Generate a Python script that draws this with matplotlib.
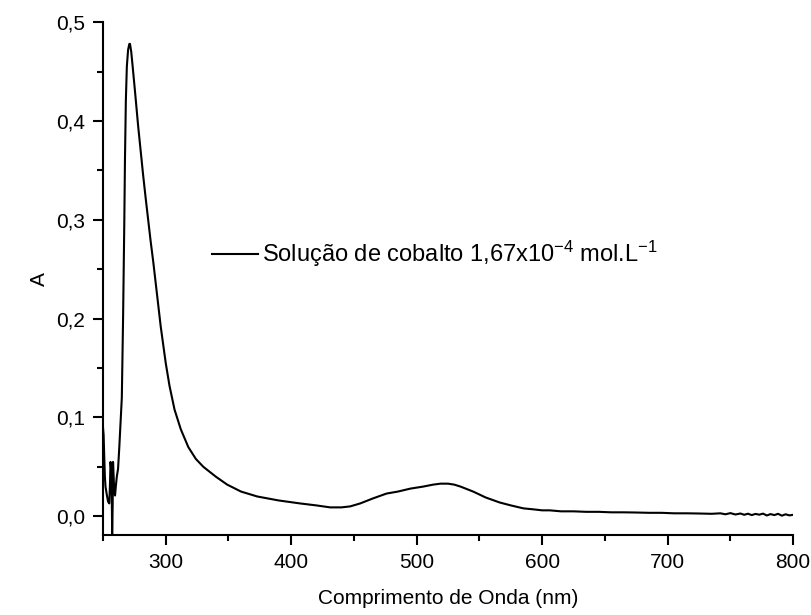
import matplotlib
matplotlib.use("Agg")
import matplotlib.pyplot as plt
from matplotlib.ticker import FuncFormatter, MultipleLocator

plt.rcParams['font.family'] = ['Liberation Sans', 'DejaVu Sans']
plt.rcParams['mathtext.fontset'] = 'custom'
plt.rcParams['mathtext.rm'] = 'Liberation Sans'
plt.rcParams['mathtext.it'] = 'Liberation Sans'
plt.rcParams['mathtext.default'] = 'regular'

# absorbance spectrum
wavelength = [250, 250.5, 251, 251.5, 252, 253, 254, 255, 255.5, 256, 256.5, 257,
              257.3, 257.7, 258, 258.5, 259, 259.6, 260.2, 261, 262, 263, 264, 265,
              266, 267, 267.5, 268.2, 269, 270, 271, 271.5, 272.5, 273.5, 275.5, 278,
              280, 282, 284, 286, 288, 290, 293, 296, 300, 303, 307, 312, 318,
              324, 330, 340, 349, 360, 373, 390, 407, 420, 431, 440, 447, 455,
              465, 476, 485, 495, 505, 513, 519, 525, 530, 535, 545, 555, 566,
              575, 585, 593, 600, 606, 615, 625, 635, 645, 655, 665, 675, 685,
              695, 705, 715, 725, 735, 742, 746, 750, 754, 758, 761, 764, 767,
              770, 773, 776, 779, 782, 785, 788, 791, 794, 797, 800]
absorbance = [0.090, 0.082, 0.060, 0.040, 0.030, 0.022, 0.015, 0.013, 0.030, 0.055,
              0.048, 0.020, -0.018, 0.010, 0.055, 0.040, 0.024, 0.021, 0.030, 0.040,
              0.048, 0.070, 0.095, 0.120, 0.200, 0.300, 0.360, 0.420, 0.455, 0.472,
              0.478, 0.478, 0.470, 0.457, 0.430, 0.395, 0.370, 0.345, 0.322, 0.300,
              0.278, 0.258, 0.225, 0.192, 0.155, 0.132, 0.108, 0.088, 0.070,
              0.058, 0.050, 0.040, 0.032, 0.025, 0.020, 0.016, 0.013, 0.011, 0.009,
              0.009, 0.010, 0.013, 0.018, 0.023, 0.025, 0.028, 0.030, 0.032, 0.033,
              0.033, 0.032, 0.030, 0.025, 0.019, 0.014, 0.011, 0.008, 0.007, 0.006,
              0.006, 0.005, 0.005, 0.0045, 0.0045, 0.004, 0.004, 0.0038, 0.0035,
              0.0035, 0.003, 0.003, 0.0028, 0.0025, 0.003, 0.002, 0.0032, 0.0018,
              0.0028, 0.0015, 0.0026, 0.0012, 0.0024, 0.0016, 0.0027, 0.0008, 0.0022,
              0.0012, 0.0025, 0.0006, 0.002, 0.0009, 0.0015]

label = "Solução de cobalto 1,67x10$^{-4}$ mol.L$^{-1}$"
x_ticks = [300, 400, 500, 600, 700, 800]
y_ticks = [0.0, 0.1, 0.2, 0.3, 0.4, 0.5]

fig = plt.figure(figsize=(8.11, 6.15), dpi=100)
ax = fig.add_axes([0.127, 0.13, 0.851, 0.834])
ax.plot(wavelength, absorbance, color='black', linewidth=1.5, label=label)

ax.set_xlim(250, 800)
ax.set_ylim(-0.019, 0.5)
ax.set_xticks(x_ticks)
ax.set_yticks(y_ticks)
ax.xaxis.set_minor_locator(MultipleLocator(50))
ax.yaxis.set_minor_locator(MultipleLocator(0.05))
ax.yaxis.set_major_formatter(FuncFormatter(lambda v, p: f"{v:.1f}".replace('.', ',')))

for s in ['top', 'right']:
    ax.spines[s].set_visible(False)
for s in ['left', 'bottom']:
    ax.spines[s].set_linewidth(1.5)
ax.tick_params(which='major', direction='out', length=7, width=1.5, labelsize=15, pad=6)
ax.tick_params(which='minor', direction='out', length=4, width=1.5)

ax.set_xlabel("Comprimento de Onda (nm)", fontsize=15, labelpad=12)
ax.set_ylabel("A", fontsize=15, labelpad=5)

ax.legend(loc='center left', bbox_to_anchor=(0.158, 0.548), frameon=False,
          fontsize=17, handlelength=1.95, handletextpad=0.17, borderpad=0, borderaxespad=0)

fig.savefig("out.png", dpi=100)
